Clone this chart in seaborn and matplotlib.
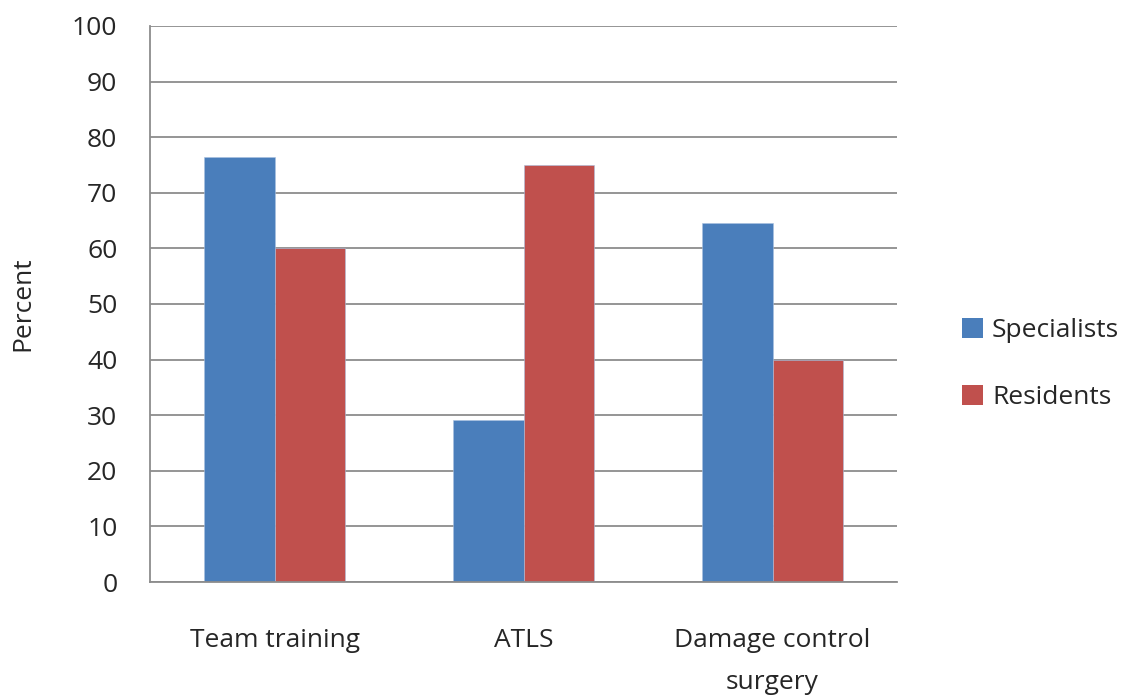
import seaborn as sns
import pandas as pd
import matplotlib.pyplot as plt
from matplotlib.patches import Patch

categories = ['Team training', 'ATLS', 'Damage control\nsurgery']
specialists = [76.4, 29.2, 64.6]
residents = [60.0, 75.0, 40.0]
groups = ['Specialists', 'Residents']
colors = ['#4A7EBB', '#C0504D']

df = pd.DataFrame({
    'category': categories * 2,
    'group': [groups[0]] * 3 + [groups[1]] * 3,
    'value': specialists + residents,
})

sns.set_style('white')
plt.rcParams['font.family'] = ['Open Sans', 'DejaVu Sans']
fs = 19

fig = plt.figure(figsize=(11.23, 6.95), dpi=100)
ax = fig.add_axes([150 / 1123, 1 - 582 / 695, 747 / 1123, 556 / 695])

sns.barplot(data=df, x='category', y='value', hue='group', palette=colors,
            width=0.57, gap=0, saturation=1, ax=ax, legend=False,
            edgecolor='#a9c0e0', linewidth=0.4)

ax.set_xlim(-0.5, 2.5)
ax.set_ylim(0, 100)
ax.set_yticks(range(0, 101, 10))
ax.yaxis.grid(True, color='#8c8c8c', linewidth=1.3)
ax.set_axisbelow(True)
for s in ['top', 'right']:
    ax.spines[s].set_visible(False)
for s in ['left', 'bottom']:
    ax.spines[s].set_color('#8c8c8c')
    ax.spines[s].set_linewidth(1.3)
ax.tick_params(axis='y', length=9.5, width=1.3, color='#8c8c8c', labelsize=fs, pad=14)
ax.tick_params(axis='x', length=0, labelsize=fs, pad=33)
for t in ax.get_xticklabels():
    t.set_linespacing(1.9)
ax.set_xlabel('')
ax.set_ylabel('Percent', fontsize=fs, labelpad=26)

handles = [Patch(facecolor=c, edgecolor='none') for c in colors]
fig.legend(handles, groups, loc='center left', bbox_to_anchor=(938 / 1123, 1 - 364 / 695),
           frameon=False, fontsize=fs, handlelength=0.8, handleheight=0.8,
           handletextpad=0.35, labelspacing=1.6)

fig.savefig('out.png', dpi=100)
